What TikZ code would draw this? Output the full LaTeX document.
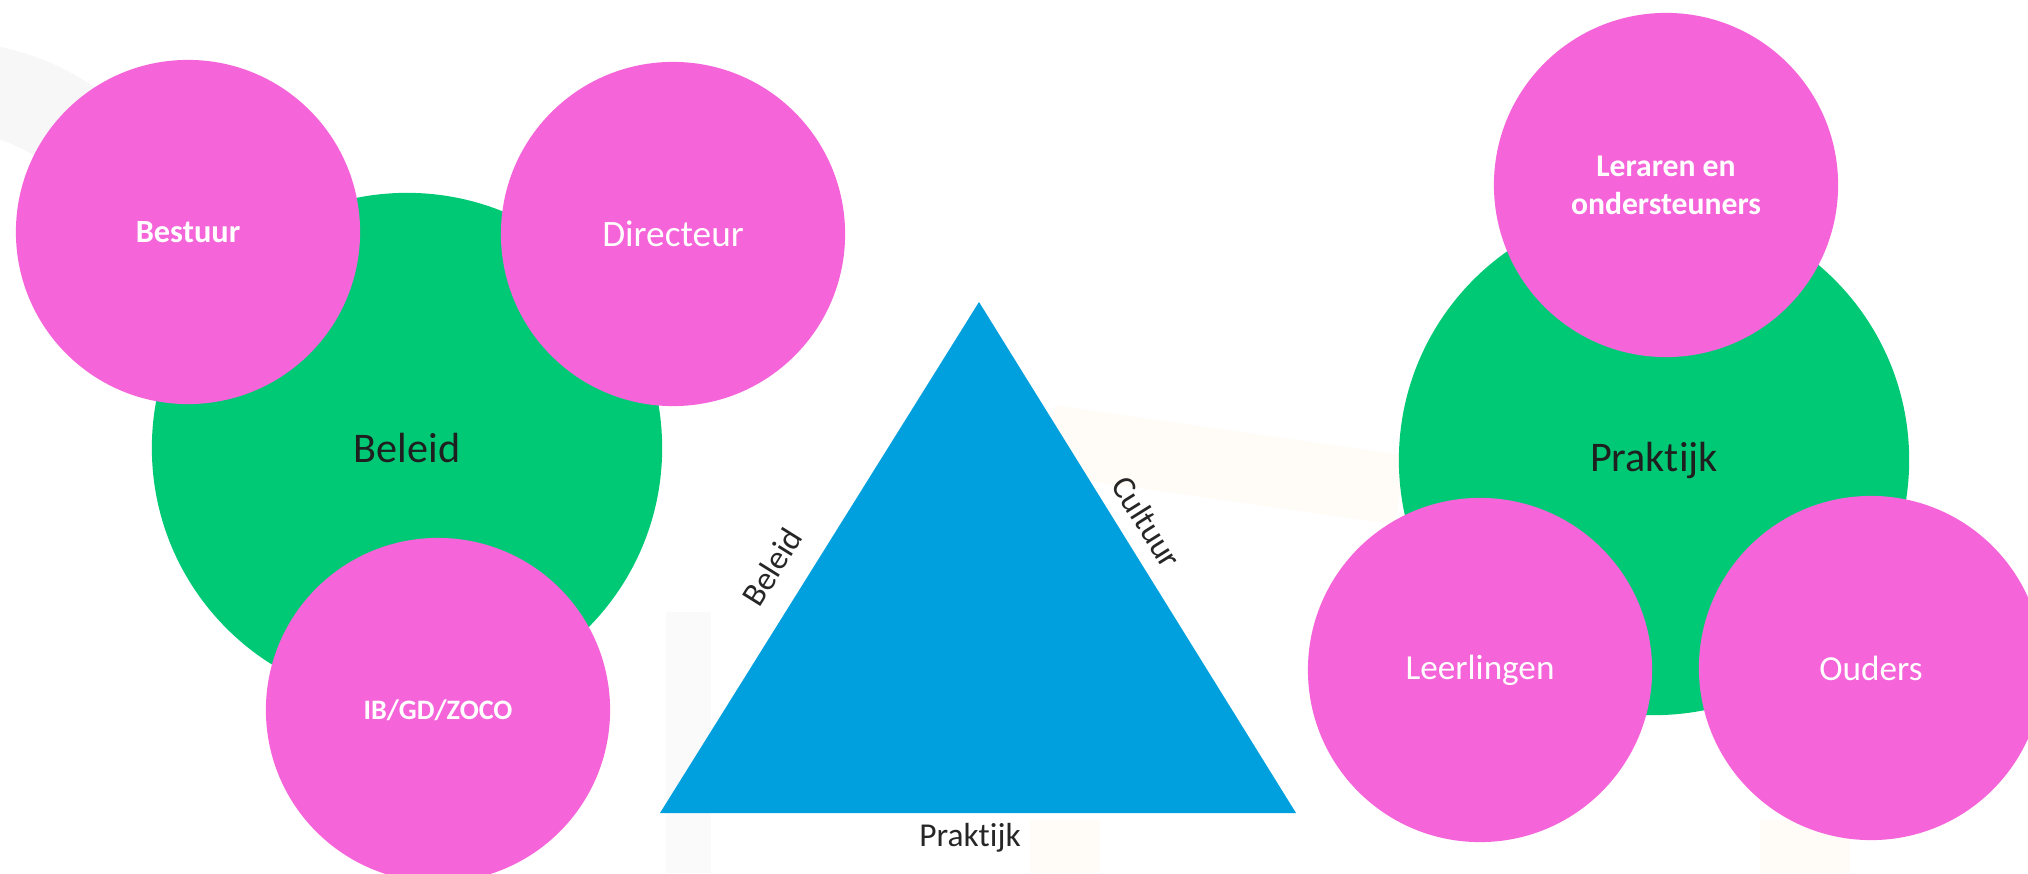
\documentclass[tikz,border=0pt]{standalone}
\usepackage{fontspec}
\setmainfont[Ligatures=NoCommon]{Carlito}
\usepackage{tikz}
\definecolor{bolroze}{RGB}{245,100,217}
\definecolor{bolgroen}{RGB}{0,201,117}
\definecolor{driehoekblauw}{RGB}{0,160,222}
\tikzset{
  member/.style={circle, fill=bolroze, minimum size=3.44cm, inner sep=0pt, text=white, align=center},
  hub/.style={circle, fill=bolgroen, minimum size=5.1cm, inner sep=0pt, text=black!88, font=\fontsize{12}{14}\selectfont},
  sidelabel/.style={text=black!85, inner sep=0pt, font=\fontsize{9.5}{11}\selectfont},
}

\begin{document}
\begin{tikzpicture}[x=0.01cm, y=-0.01cm]
    \useasboundingbox (0,0) rectangle (2028,873);

    % faint background bands
    \draw[black!3, line width=0.9cm] (-60,80) .. controls (40,100) .. (160,190);
    \fill[black!2] (666,612) rectangle (711,873);
    \draw[orange!3, line width=0.7cm] (1050,440) -- (1400,490);
    \fill[orange!3] (1030,820) rectangle (1100,873);
    \fill[orange!3] (1760,820) rectangle (1850,873);

    % beleid
    \node[hub] (beleid) at (407,448) {Beleid};
    \node[member, font=\bfseries\fontsize{9.2}{11}\selectfont] (bestuur) at (188,232) {Bestuur};
    \node[member, font=\fontsize{10.6}{12}\selectfont] (directeur) at (673,234) {Directeur};
    \node[member, font=\bfseries\fontsize{8}{10}\selectfont] (ibgd) at (438,710) {IB/GD/ZOCO};

    % driehoek
    \coordinate (top) at (979,302);
    \coordinate (linksonder) at (660,813);
    \coordinate (rechtsonder) at (1296,813);
    \fill[driehoekblauw] (top) -- (rechtsonder) -- (linksonder) -- cycle;
    \node[sidelabel, rotate=58] (zijbeleid) at (772,567) {Beleid};
    \node[sidelabel, rotate=-58] (zijcultuur) at (1147,522) {Cultuur};
    \node[sidelabel] (zijpraktijk) at (970,838) {Praktijk};

    % praktijk
    \node[hub] (praktijk) at (1654,460) {Praktijk};
    \node[member, font=\bfseries\fontsize{9}{10.8}\selectfont] (leraren) at (1666,185) {Leraren en\\ondersteuners};
    \node[member, font=\fontsize{10}{12}\selectfont] (leerlingen) at (1480,670) {Leerlingen};
    \node[member, font=\fontsize{10}{12}\selectfont] (ouders) at (1871,668) {Ouders};
\end{tikzpicture}
\end{document}
